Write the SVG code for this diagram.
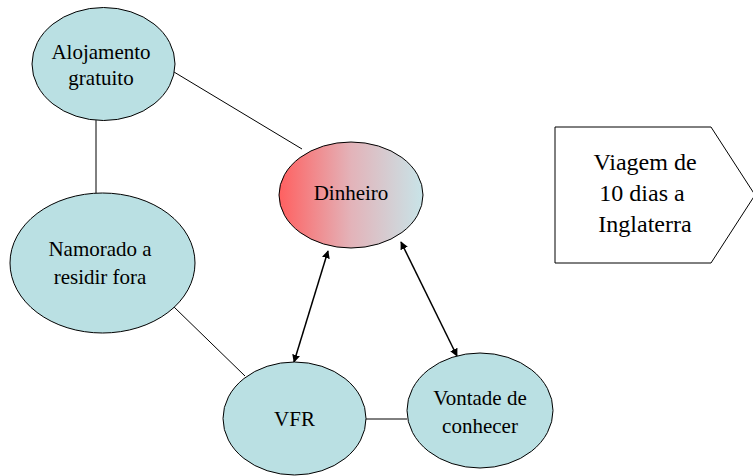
<svg xmlns="http://www.w3.org/2000/svg" width="753" height="476" viewBox="0 0 753 476">
  <defs>
    <linearGradient id="grad" x1="0" y1="0" x2="1" y2="0">
      <stop offset="0" stop-color="#FF6060"/>
      <stop offset="0.5" stop-color="#E3B3B9"/>
      <stop offset="1" stop-color="#C8E4E8"/>
    </linearGradient>
    <marker id="arr" viewBox="0 0 10 10" refX="9" refY="5" markerWidth="8" markerHeight="8" markerUnits="userSpaceOnUse" orient="auto-start-reverse">
      <path d="M0,0 L10,5 L0,10 z" fill="#000"/>
    </marker>
  </defs>
  <rect width="753" height="476" fill="#fff"/>
  <g id="connectors" stroke="#000" fill="none">
    <line x1="96" y1="120" x2="96" y2="193"/>
    <line x1="174" y1="72" x2="302" y2="149"/>
    <line x1="174" y1="307" x2="245" y2="376"/>
    <line x1="366" y1="419" x2="407" y2="419"/>
    <line x1="328" y1="251" x2="294" y2="362" stroke-width="1.5" marker-start="url(#arr)" marker-end="url(#arr)"/>
    <line x1="401" y1="242" x2="457" y2="356" stroke-width="1.5" marker-start="url(#arr)" marker-end="url(#arr)"/>
  </g>
  <g id="alojamento">
    <ellipse cx="103.5" cy="64" rx="71.5" ry="56.5" fill="#BAE0E3" stroke="#000"/>
    <text x="101" y="59" style="font-family:'Liberation Serif',serif;font-size:21px;text-anchor:middle">Alojamento</text>
    <text x="101" y="85" style="font-family:'Liberation Serif',serif;font-size:21px;text-anchor:middle">gratuito</text>
  </g>
  <g id="namorado">
    <ellipse cx="102.5" cy="263" rx="92.5" ry="70" fill="#BAE0E3" stroke="#000"/>
    <text x="100" y="256" style="font-family:'Liberation Serif',serif;font-size:21px;text-anchor:middle">Namorado a</text>
    <text x="100" y="284" style="font-family:'Liberation Serif',serif;font-size:21px;text-anchor:middle">residir fora</text>
  </g>
  <g id="dinheiro">
    <ellipse cx="351" cy="195" rx="72" ry="53" fill="url(#grad)" stroke="#000"/>
    <text x="351" y="200" style="font-family:'Liberation Serif',serif;font-size:21px;text-anchor:middle">Dinheiro</text>
  </g>
  <g id="vfr">
    <ellipse cx="294.5" cy="418.5" rx="71.5" ry="56.5" fill="#BAE0E3" stroke="#000"/>
    <text x="294.5" y="426" style="font-family:'Liberation Serif',serif;font-size:21px;text-anchor:middle">VFR</text>
  </g>
  <g id="vontade">
    <ellipse cx="480" cy="410.5" rx="73" ry="57.5" fill="#BAE0E3" stroke="#000"/>
    <text x="480" y="405" style="font-family:'Liberation Serif',serif;font-size:21px;text-anchor:middle">Vontade de</text>
    <text x="480" y="433" style="font-family:'Liberation Serif',serif;font-size:21px;text-anchor:middle">conhecer</text>
  </g>
  <g id="viagem">
    <polygon points="555,127 711,127 755,195 711,263 555,263" fill="#fff" stroke="#000"/>
    <text x="645" y="170" style="font-family:'Liberation Serif',serif;font-size:24px;text-anchor:middle">Viagem de</text>
    <text x="642" y="201" style="font-family:'Liberation Serif',serif;font-size:24px;text-anchor:middle">10 dias a</text>
    <text x="645" y="232" style="font-family:'Liberation Serif',serif;font-size:24px;text-anchor:middle">Inglaterra</text>
  </g>
</svg>
